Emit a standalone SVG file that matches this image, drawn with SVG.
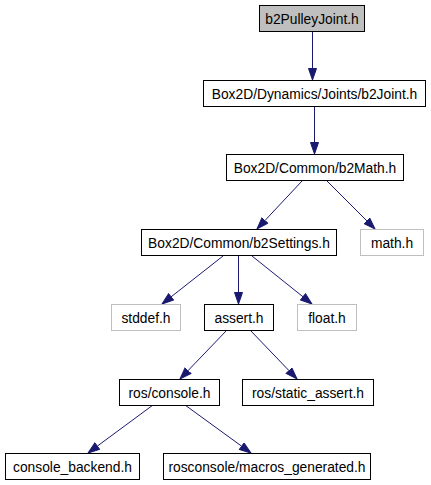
<svg xmlns="http://www.w3.org/2000/svg" width="431" height="485" viewBox="0 0 431 485">
<defs>
<style>
.n rect{fill:#ffffff;stroke:#000000;stroke-width:1}
.g rect{fill:#ffffff;stroke:#bfbfbf;stroke-width:1}
.root rect{fill:#bfbfbf;stroke:#000000;stroke-width:1}
text{font-family:"Liberation Sans",Arial,sans-serif;font-size:13.8px;text-anchor:middle;fill:#000000}
.e line{stroke:#191970;stroke-width:1;marker-end:url(#ah)}
</style>
<marker id="ah" markerUnits="userSpaceOnUse" markerWidth="13" markerHeight="10" refX="12" refY="4.5" orient="auto">
<path d="M0.5,0.5 L12,4.5 L0.5,8.5 z" fill="#191970" stroke="#191970" stroke-width="1"/>
</marker>
</defs>
<rect width="431" height="485" fill="#ffffff"/>
<g id="edges" class="e">
<line x1="312.5" y1="32" x2="312.5" y2="80"/>
<line x1="314.5" y1="106" x2="314.5" y2="154"/>
<line x1="302" y1="181" x2="257" y2="229"/>
<line x1="327" y1="181" x2="375" y2="229"/>
<line x1="223" y1="256" x2="162" y2="304"/>
<line x1="238.5" y1="256" x2="238.5" y2="304"/>
<line x1="252" y1="256" x2="312" y2="304"/>
<line x1="227" y1="330" x2="180" y2="379"/>
<line x1="250" y1="330" x2="297" y2="379"/>
<line x1="153" y1="405" x2="88" y2="453"/>
<line x1="185" y1="405" x2="251" y2="453"/>
</g>
<g id="node_b2PulleyJoint" class="root"><rect x="259.5" y="5.5" width="105" height="26"/><text x="312" y="23.5">b2PulleyJoint.h</text></g>
<g id="node_b2Joint" class="n"><rect x="203.5" y="80.5" width="222" height="26"/><text x="314.5" y="98.5">Box2D/Dynamics/Joints/b2Joint.h</text></g>
<g id="node_b2Math" class="n"><rect x="226.5" y="154.5" width="177" height="26"/><text x="315" y="172.5">Box2D/Common/b2Math.h</text></g>
<g id="node_b2Settings" class="n"><rect x="141.5" y="229.5" width="195" height="26"/><text x="239" y="247.5">Box2D/Common/b2Settings.h</text></g>
<g id="node_math" class="g"><rect x="360.5" y="229.5" width="63" height="26"/><text x="392" y="247.5">math.h</text></g>
<g id="node_stddef" class="g"><rect x="111.5" y="304.5" width="69" height="26"/><text x="146" y="322.5">stddef.h</text></g>
<g id="node_assert" class="n"><rect x="204.5" y="304.5" width="69" height="26"/><text x="239" y="322.5">assert.h</text></g>
<g id="node_float" class="g"><rect x="297.5" y="304.5" width="59" height="26"/><text x="327" y="322.5">float.h</text></g>
<g id="node_console" class="n"><rect x="119.5" y="379.5" width="100" height="26"/><text x="169.5" y="397.5">ros/console.h</text></g>
<g id="node_static_assert" class="n"><rect x="242.5" y="379.5" width="131" height="26"/><text x="308" y="397.5">ros/static_assert.h</text></g>
<g id="node_console_backend" class="n"><rect x="5.5" y="453.5" width="134" height="26"/><text x="72.5" y="471.5">console_backend.h</text></g>
<g id="node_macros_generated" class="n"><rect x="163.5" y="453.5" width="207" height="26"/><text x="267" y="471.5">rosconsole/macros_generated.h</text></g>
</svg>
